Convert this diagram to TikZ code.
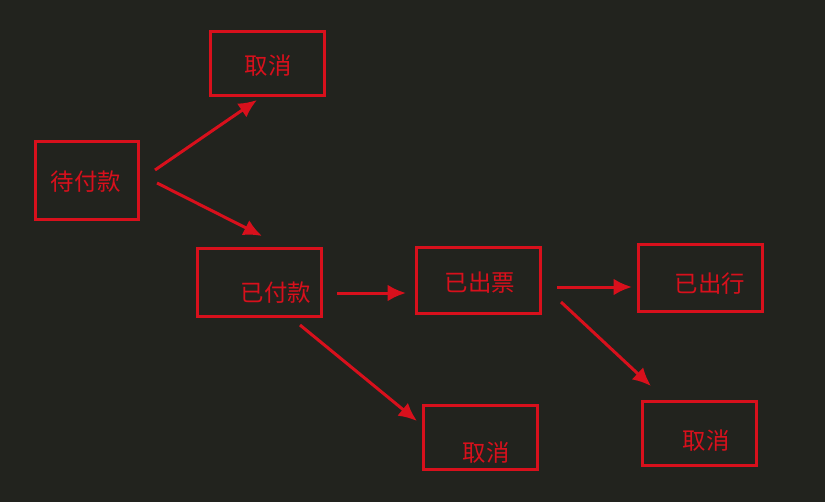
\documentclass[tikz,border=0pt]{standalone}
\usepackage{fontspec}
\usetikzlibrary{arrows.meta}
\newfontfamily\cjk{Noto Sans CJK SC}
\definecolor{bg}{HTML}{22231E}
\definecolor{boxred}{HTML}{D8101C}
\begin{document}
\begin{tikzpicture}[x=0.03cm,y=-0.03cm,line width=0.09cm]
    \tikzstyle{state}=[draw=boxred,rectangle,inner sep=0pt]
    \tikzstyle{label}=[text=boxred,font=\cjk\fontsize{20}{20}\selectfont]
    \tikzstyle{flow}=[draw=boxred,-{Latex[length=0.55cm,width=0.5cm]}]
    \fill[bg] (0,0) rectangle (825,502);

    % Boxes
    \node[state,minimum width=3.06cm,minimum height=2.34cm] (wait) at (87,180) {};
    \node[state,minimum width=3.42cm,minimum height=1.92cm] (cancel1) at (267,63) {};
    \node[state,minimum width=3.72cm,minimum height=2.04cm] (paid) at (259,282) {};
    \node[state,minimum width=3.72cm,minimum height=1.98cm] (ticket) at (478,280) {};
    \node[state,minimum width=3.72cm,minimum height=2.01cm] (trip) at (700,278) {};
    \node[state,minimum width=3.42cm,minimum height=1.92cm] (cancel2) at (480,437) {};
    \node[state,minimum width=3.42cm,minimum height=1.92cm] (cancel3) at (699,433) {};

    % Texts
    \node[label] (t-wait) at (86,182) {待付款};
    \node[label] (t-cancel1) at (268,66) {取消};
    \node[label] (t-paid) at (276,293) {已付款};
    \node[label] (t-ticket) at (480,283) {已出票};
    \node[label] (t-trip) at (710,284) {已出行};
    \node[label] (t-cancel2) at (486,453) {取消};
    \node[label] (t-cancel3) at (706,441) {取消};

    % Arrow ends
    \coordinate (a1) at (155,170); \coordinate (b1) at (257,100);
    \coordinate (a2) at (157,183); \coordinate (b2) at (262,236);
    \coordinate (a3) at (337,293); \coordinate (b3) at (406,293);
    \coordinate (a4) at (557,287); \coordinate (b4) at (632,287);
    \coordinate (a5) at (300,325); \coordinate (b5) at (417,421);
    \coordinate (a6) at (561,302); \coordinate (b6) at (651,386);

    \foreach \i in {1,...,6}
        \draw[flow] (a\i) -- (b\i);
\end{tikzpicture}
\end{document}
